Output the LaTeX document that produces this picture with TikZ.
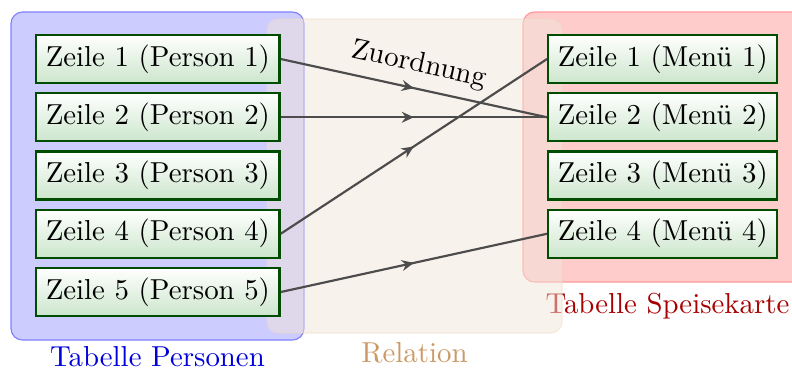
\documentclass[tikz,border=0pt]{standalone}
\usepackage{fontspec}
\usetikzlibrary{arrows.meta,decorations.markings}

\begin{document}
\begin{tikzpicture}[x=0.3466pt,y=-0.3466pt,
  row/.style={draw=green!30!black, line width=0.8pt,
    top color=white, bottom color=green!50!black!20,
    anchor=west, inner sep=3.33pt},
  tablebox/.style={rounded corners=4pt, line width=0.4pt},
  caption/.style={anchor=base},
  link/.style={draw=black!70, line width=0.75pt, postaction={decorate},
    decoration={markings, mark=at position 0.5 with
      {\arrow{Stealth[length=4.2pt,width=3.8pt,inset=1.4pt]}}}}]

  \useasboundingbox (0,0) rectangle (792,374);
  \clip (0,0) rectangle (792,374);

  % the two tables
  \path[tablebox, fill=blue!20, draw=blue!50] (11,12) rectangle (304,340);
  \path[tablebox, fill=red!20, draw=red!40] (523,12) rectangle (812,282);
  \node[caption, text=blue!85!black] (lblP) at (157.5,366) {Tabelle Personen};
  \node[caption, text=red!65!black] (lblM) at (667.5,313) {Tabelle Speisekarte};

  % the relation between them, laid translucently over both
  \path[tablebox, fill=brown!20, draw=brown!30, opacity=0.5] (267,19) rectangle (562,333);
  \node[caption, text=brown!80] (lblR) at (414.5,362) {Relation};

  % rows
  \foreach \i/\y in {1/59,2/117.25,3/175.5,4/233.75,5/292}
    \node[row] (p\i) at (35,\y) {Zeile \i{} (Person \i)};
  \foreach \i/\y in {1/59,2/117.25,3/175.5,4/233.75}
    \node[row] (m\i) at (547,\y) {Zeile \i{} (Menü \i)};

  % assignments
  \draw[link] (p1.east) -- node[above, sloped] (zlabel) {Zuordnung} (m2.west);
  \draw[link] (p2.east) -- (m2.west);
  \draw[link] (p4.east) -- (m1.west);
  \draw[link] (p5.east) -- (m4.west);
\end{tikzpicture}
\end{document}
